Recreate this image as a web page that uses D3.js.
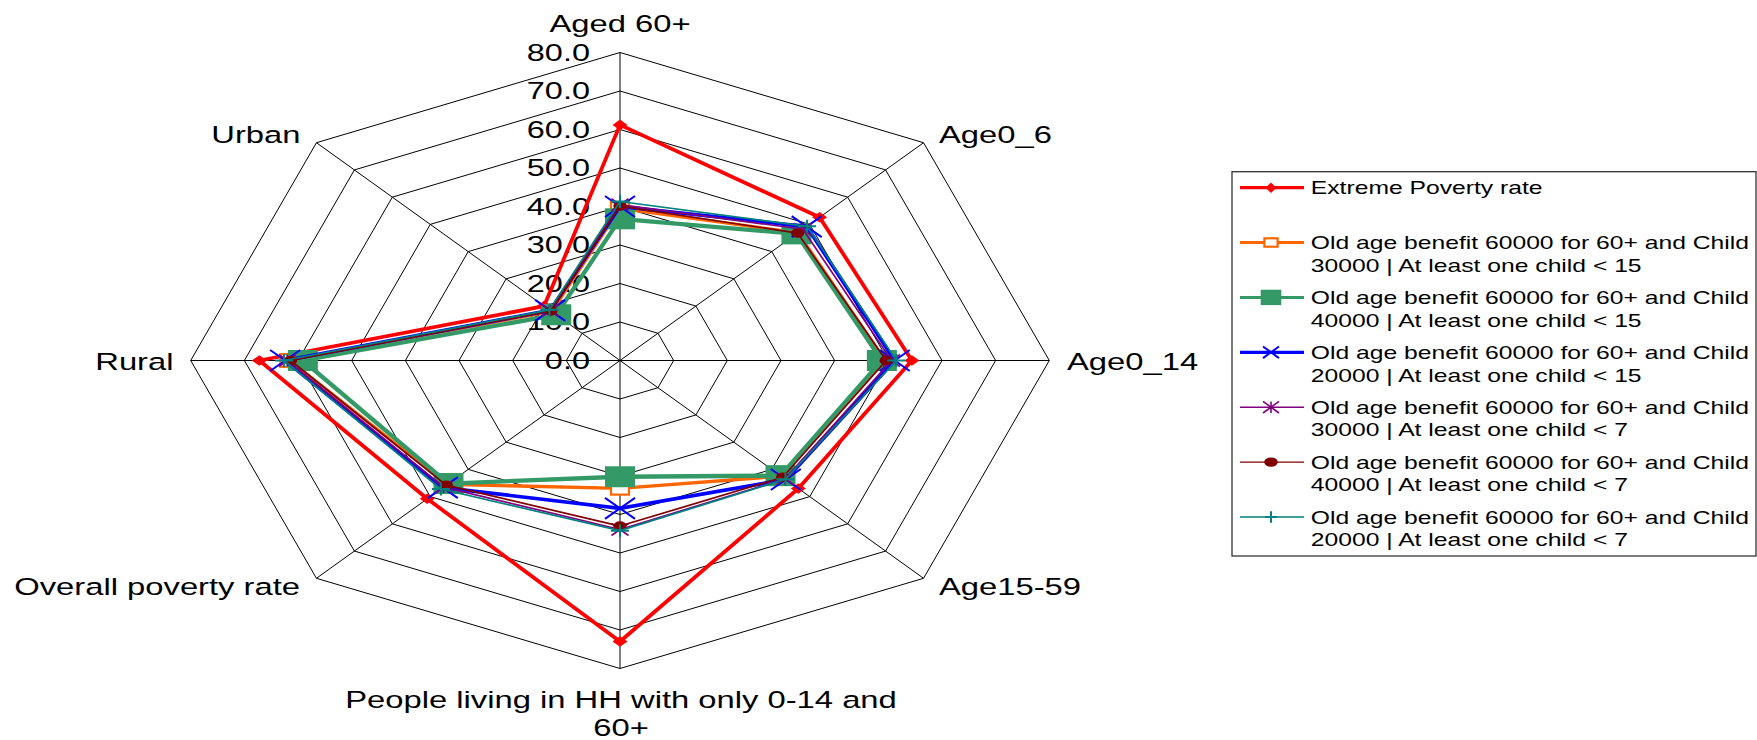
<!DOCTYPE html>
<html><head><meta charset="utf-8">
<script src="https://cdn.jsdelivr.net/npm/d3@7"></script>
<style>
body{margin:0;background:#fff}
svg{display:block}
text{font-family:"Liberation Sans",Arial,sans-serif;fill:#000}
</style>
</head><body>
<svg id="chart" width="1757" height="740"></svg>
<script>
// ---------------- DATA ----------------
const categories = ["Aged 60+","Age0_6","Age0_14","Age15-59","People living in HH with only 0-14 and 60+","Overall poverty rate","Rural","Urban"];
const tickValues = [0,10,20,30,40,50,60,70,80];
const tickLabels = ["0.0","10.0","20.0","30.0","40.0","50.0","60.0","70.0","80.0"];
const seriesNames = [
  "Extreme Poverty rate",
  "Old age benefit 60000 for 60+ and Child 30000 | At least one child < 15",
  "Old age benefit 60000 for 60+ and Child 40000 | At least one child < 15",
  "Old age benefit 60000 for 60+ and Child 20000 | At least one child < 15",
  "Old age benefit 60000 for 60+ and Child 30000 | At least one child < 7",
  "Old age benefit 60000 for 60+ and Child 40000 | At least one child < 7",
  "Old age benefit 60000 for 60+ and Child 20000 | At least one child < 7"
];
const extremePoverty = [61.2, 52.6, 54.4, 47.0, 73.0, 50.8, 67.2, 20.0];
const oab30kLt15     = [39.5, 46.9, 49.4, 42.5, 33.2, 45.5, 61.6, 18.0];
const oab40kLt15     = [36.8, 46.5, 48.8, 42.3, 30.2, 45.2, 59.1, 16.8];
const oab20kLt15     = [40.0, 49.2, 51.2, 43.7, 38.4, 46.7, 62.4, 18.4];
const oab30kLt7      = [40.5, 48.2, 50.6, 43.5, 43.9, 46.5, 62.0, 18.4];
const oab40kLt7      = [40.1, 46.8, 49.6, 42.9, 43.0, 45.8, 61.4, 18.2];
const oab20kLt7      = [41.3, 49.3, 51.5, 43.6, 44.2, 47.2, 62.6, 18.6];
const seriesValues = [extremePoverty, oab30kLt15, oab40kLt15, oab20kLt15, oab30kLt7, oab40kLt7, oab20kLt7];

// ---------------- STYLE / LAYOUT ----------------
const S = 1.394;                 // horizontal stretch of the original picture
const cx = 620, cy = 360.5, RX = 429.3, RY = 308;
const styles = [
  {color:"#FF0000", width:3.8, marker:"diamond",  mx:7.5, my:5.3, lw:3.2, lmx:5.4, lmy:5.3},
  {color:"#FF6600", width:3.3, marker:"hsquare",  mx:9,   my:6.3, lw:3,   lmx:6.6, lmy:4.2},
  {color:"#339966", width:4.3, marker:"square",   mx:15,  my:10.5,lw:3,   lmx:10.3,lmy:7.7},
  {color:"#0000FF", width:3.7, marker:"x",        mx:15,  my:10.5,lw:3.2, lmx:8,   lmy:5.8},
  {color:"#800080", width:1.7, marker:"star",     mx:8.5, my:6,   lw:1.4, lmx:8,   lmy:5.8},
  {color:"#800000", width:1.7, marker:"circle",   mx:6.7, my:4.7, lw:1.4, lmx:6.8, lmy:4.7},
  {color:"#008080", width:1.7, marker:"plus",     mx:9,   my:6.5, lw:1.4, lmx:6,   lmy:5.8}
];

const svg = d3.select("#chart");
const r = d3.scaleLinear().domain([0, 80]).range([0, 1]);
const ang = d3.scaleLinear().domain([0, categories.length]).range([0, 2 * Math.PI]);
function pt(i, v) {
  const a = ang(i);
  return [cx + RX * r(v) * Math.sin(a), cy - RY * r(v) * Math.cos(a)];
}
const closedLine = d3.line().curve(d3.curveLinearClosed);

// grid
const grid = svg.append("g");
tickValues.filter(t => t > 0).forEach(t => {
  grid.append("path")
    .attr("d", closedLine(categories.map((c, i) => pt(i, t))))
    .attr("fill", "none").attr("stroke", "#000").attr("stroke-width", 1);
});
categories.forEach((c, i) => {
  const p = pt(i, 80);
  grid.append("line").attr("x1", cx).attr("y1", cy).attr("x2", p[0]).attr("y2", p[1])
    .attr("stroke", "#000").attr("stroke-width", 1);
});

// tick labels
tickValues.forEach((t, k) => {
  const y = pt(0, t)[1];
  svg.append("text")
    .attr("transform", `translate(590,${y + 8.4}) scale(${S},1)`)
    .attr("text-anchor", "end")
    .attr("font-size", 23.3)
    .text(tickLabels[k]);
});

// axis labels
const labelLayout = [
  {anchor:"middle", dx:0,     dy:-20.5},
  {anchor:"start",  dx:15.4,  dy:0.6},
  {anchor:"start",  dx:17.7,  dy:9.5},
  {anchor:"start",  dx:15.4,  dy:16.7},
  {anchor:"middle", dx:1,     dy:39.2},
  {anchor:"end",    dx:-16.4, dy:16.7},
  {anchor:"end",    dx:-17.2, dy:9.5},
  {anchor:"end",    dx:-16,   dy:0.6}
];
categories.forEach((c, i) => {
  const p = pt(i, 80), L = labelLayout[i];
  let lines = [c];
  if (c.length > 30) { const k = c.lastIndexOf(" "); lines = [c.slice(0, k), c.slice(k + 1)]; }
  lines.forEach((ln, j) => {
    svg.append("text")
      .attr("transform", `translate(${p[0] + L.dx},${p[1] + L.dy + j * 28}) scale(${S},1)`)
      .attr("text-anchor", L.anchor)
      .attr("font-size", 23.5)
      .text(ln);
  });
});

// markers
function drawMarker(g, type, x, y, hx, hy, color) {
  if (type === "diamond") {
    g.append("path").attr("d", `M${x},${y-hy}L${x+hx},${y}L${x},${y+hy}L${x-hx},${y}Z`).attr("fill", color);
  } else if (type === "square") {
    g.append("rect").attr("x", x-hx).attr("y", y-hy).attr("width", 2*hx).attr("height", 2*hy).attr("fill", color);
  } else if (type === "hsquare") {
    g.append("rect").attr("x", x-hx).attr("y", y-hy).attr("width", 2*hx).attr("height", 2*hy)
      .attr("fill", "#fff").attr("stroke", color).attr("stroke-width", 2.2);
  } else if (type === "x") {
    g.append("path").attr("d", `M${x-hx},${y-hy}L${x+hx},${y+hy}M${x-hx},${y+hy}L${x+hx},${y-hy}`)
      .attr("stroke", color).attr("stroke-width", 2).attr("fill", "none");
  } else if (type === "star") {
    g.append("path").attr("d", `M${x-hx},${y-hy}L${x+hx},${y+hy}M${x-hx},${y+hy}L${x+hx},${y-hy}M${x},${y-hy}L${x},${y+hy}`)
      .attr("stroke", color).attr("stroke-width", 1.6).attr("fill", "none");
  } else if (type === "circle") {
    g.append("ellipse").attr("cx", x).attr("cy", y).attr("rx", hx).attr("ry", hy).attr("fill", color);
  } else if (type === "plus") {
    g.append("path").attr("d", `M${x-hx},${y}L${x+hx},${y}M${x},${y-hy}L${x},${y+hy}`)
      .attr("stroke", color).attr("stroke-width", 2).attr("fill", "none");
  }
}

// series
const plot = svg.append("g");
seriesValues.forEach((vals, s) => {
  const st = styles[s];
  const g = plot.append("g");
  g.append("path")
    .attr("d", closedLine(vals.map((v, i) => pt(i, v))))
    .attr("fill", "none").attr("stroke", st.color).attr("stroke-width", st.width)
    .attr("stroke-linejoin", "round");
  vals.forEach((v, i) => {
    const p = pt(i, v);
    drawMarker(g, st.marker, p[0], p[1], st.mx, st.my, st.color);
  });
});

// legend
const leg = svg.append("g");
leg.append("rect").attr("x", 1232).attr("y", 171.7).attr("width", 524).attr("height", 384.3)
  .attr("fill", "#fff").attr("stroke", "#333").attr("stroke-width", 1.3);
seriesNames.forEach((name, s) => {
  const st = styles[s];
  const yc = s === 0 ? 187.7 : 242.5 + (s - 1) * 54.9;
  leg.append("line").attr("x1", 1240).attr("x2", 1304).attr("y1", yc).attr("y2", yc)
    .attr("stroke", st.color).attr("stroke-width", st.lw);
  drawMarker(leg, st.marker, 1271, yc, st.lmx, st.lmy, st.color);
  let lines = [name];
  const k = name.indexOf("Child ");
  if (k > 0) lines = [name.slice(0, k + 5), name.slice(k + 6)];
  lines.forEach((ln, j) => {
    leg.append("text")
      .attr("transform", `translate(1310.8,${yc + 6.5 + j * 22.7}) scale(${S},1)`)
      .attr("font-size", 17.7)
      .text(ln);
  });
});
</script>
</body></html>
